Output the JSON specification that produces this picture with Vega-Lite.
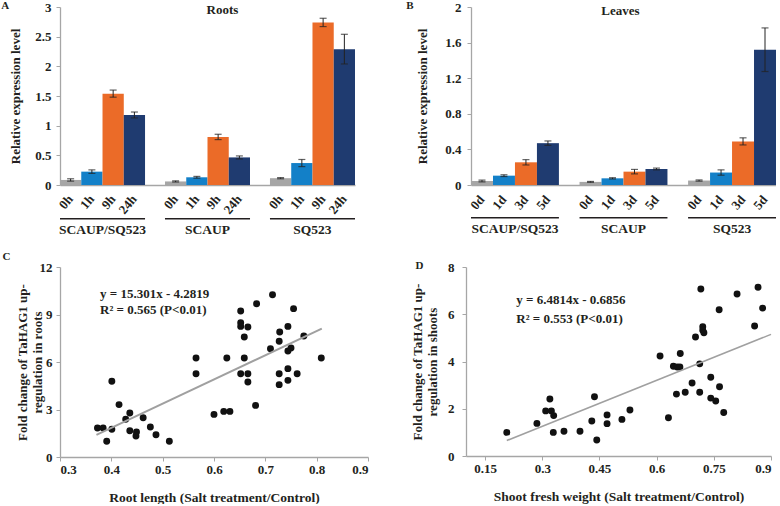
{
  "$schema": "https://vega.github.io/schema/vega-lite/v6.json",
  "background": "white",
  "padding": {"left": 1, "top": 0, "right": 0, "bottom": 0},
  "bounds": "flush",
  "config": {
    "view": {"stroke": null},
    "font": "Liberation Serif",
    "axis": {"labelFont": "Liberation Serif", "labelFontWeight": "bold", "labelFontSize": 13, "labelColor": "#231f20", "titleFont": "Liberation Serif", "titleFontWeight": "bold", "titleFontSize": 13, "titleColor": "#231f20", "domainColor": "#a6a6a6", "domainWidth": 1.3, "tickColor": "#a6a6a6", "tickSize": 4, "grid": false, "labelOverlap": false, "labelBound": false},
    "title": {"font": "Liberation Serif", "fontWeight": "bold", "fontSize": 11, "color": "#231f20", "anchor": "start", "frame": "bounds", "offset": -10},
    "text": {"font": "Liberation Serif", "fontWeight": "bold", "fontSize": 13, "color": "#231f20"}
  },
  "resolve": {"scale": {"color": "independent", "xOffset": "independent"}},
  "spacing": 260,
  "vconcat": [
    {
      "bounds": "flush",
      "hconcat": [
        {
          "title": {"text": "A", "dx": -8.5},
          "width": 295, "height": 178,
          "data": {"values": [
            {"g": "SCAUP/SQ523", "time": "0h", "v": 0.085, "lo": 0.065, "hi": 0.105},
            {"g": "SCAUP/SQ523", "time": "1h", "v": 0.225, "lo": 0.195, "hi": 0.255},
            {"g": "SCAUP/SQ523", "time": "9h", "v": 1.54, "lo": 1.48, "hi": 1.6},
            {"g": "SCAUP/SQ523", "time": "24h", "v": 1.18, "lo": 1.13, "hi": 1.23},
            {"g": "SCAUP", "time": "0h", "v": 0.06, "lo": 0.05, "hi": 0.07},
            {"g": "SCAUP", "time": "1h", "v": 0.13, "lo": 0.115, "hi": 0.145},
            {"g": "SCAUP", "time": "9h", "v": 0.81, "lo": 0.765, "hi": 0.855},
            {"g": "SCAUP", "time": "24h", "v": 0.465, "lo": 0.44, "hi": 0.49},
            {"g": "SQ523", "time": "0h", "v": 0.115, "lo": 0.105, "hi": 0.125},
            {"g": "SQ523", "time": "1h", "v": 0.37, "lo": 0.31, "hi": 0.43},
            {"g": "SQ523", "time": "9h", "v": 2.74, "lo": 2.67, "hi": 2.81},
            {"g": "SQ523", "time": "24h", "v": 2.29, "lo": 2.04, "hi": 2.54}
          ]},
          "layer": [
            {
              "mark": {"type": "bar"},
              "encoding": {
                "x": {"field": "g", "type": "nominal", "sort": ["SCAUP/SQ523", "SCAUP", "SQ523"], "scale": {"paddingInner": 0.19, "paddingOuter": 0}, "axis": {"title": null, "labelAngle": 0, "ticks": false, "labelPadding": 37, "labelFontSize": 13.5}},
                "xOffset": {"field": "time", "type": "nominal", "sort": ["0h", "1h", "9h", "24h"], "scale": {"paddingInner": 0, "paddingOuter": 0}},
                "y": {"field": "v", "type": "quantitative", "scale": {"domain": [0, 3]}, "axis": {"title": "Relative expression level", "values": [0, 0.5, 1, 1.5, 2, 2.5, 3], "tickCount": 10, "labelExpr": "'' + datum.value", "labelOverlap": false, "labelPadding": 5, "titlePadding": 12}},
                "color": {"field": "time", "type": "nominal", "scale": {"domain": ["0h", "1h", "9h", "24h"], "range": ["#a6a6a6", "#1380c8", "#eb6b28", "#1f3b70"]}, "legend": null}
              }
            },
            {
              "mark": {"type": "rule", "color": "#222222", "strokeWidth": 1},
              "encoding": {
                "x": {"field": "g", "type": "nominal", "sort": ["SCAUP/SQ523", "SCAUP", "SQ523"]},
                "xOffset": {"field": "time", "type": "nominal", "sort": ["0h", "1h", "9h", "24h"]},
                "y": {"field": "lo", "type": "quantitative"},
                "y2": {"field": "hi"}
              }
            },
            {
              "mark": {"type": "tick", "color": "#222222", "size": 7, "thickness": 1.2},
              "encoding": {
                "x": {"field": "g", "type": "nominal", "sort": ["SCAUP/SQ523", "SCAUP", "SQ523"]},
                "xOffset": {"field": "time", "type": "nominal", "sort": ["0h", "1h", "9h", "24h"]},
                "y": {"field": "hi", "type": "quantitative"}
              }
            },
            {
              "mark": {"type": "tick", "color": "#222222", "size": 7, "thickness": 1.2},
              "encoding": {
                "x": {"field": "g", "type": "nominal", "sort": ["SCAUP/SQ523", "SCAUP", "SQ523"]},
                "xOffset": {"field": "time", "type": "nominal", "sort": ["0h", "1h", "9h", "24h"]},
                "y": {"field": "lo", "type": "quantitative"}
              }
            },
            {
              "mark": {"type": "text", "angle": -50, "align": "right", "baseline": "middle", "fontSize": 13},
              "encoding": {
                "x": {"field": "g", "type": "nominal", "sort": ["SCAUP/SQ523", "SCAUP", "SQ523"]},
                "xOffset": {"field": "time", "type": "nominal", "sort": ["0h", "1h", "9h", "24h"]},
                "y": {"datum": -0.2},
                "text": {"field": "time"}
              }
            },
            {
              "data": {"values": [{"g": "SCAUP/SQ523"}, {"g": "SCAUP"}, {"g": "SQ523"}]},
              "mark": {"type": "rect", "color": "#231f20"},
              "encoding": {
                "x": {"field": "g", "type": "nominal", "sort": ["SCAUP/SQ523", "SCAUP", "SQ523"]},
                "y": {"datum": -0.555},
                "y2": {"datum": -0.58}
              }
            },
            {
              "data": {"values": [{"label": "Roots"}]},
              "mark": {"type": "text", "dx": 15, "baseline": "middle"},
              "encoding": {
                "x": {"datum": "SCAUP"},
                "y": {"datum": 2.95},
                "text": {"field": "label"}
              }
            }
          ]
        },
        {
          "title": {"text": "B", "dx": -10.5},
          "width": 305, "height": 178,
          "data": {"values": [
            {"g": "SCAUP/SQ523", "time": "0d", "v": 0.045, "lo": 0.035, "hi": 0.055},
            {"g": "SCAUP/SQ523", "time": "1d", "v": 0.105, "lo": 0.095, "hi": 0.115},
            {"g": "SCAUP/SQ523", "time": "3d", "v": 0.255, "lo": 0.225, "hi": 0.285},
            {"g": "SCAUP/SQ523", "time": "5d", "v": 0.47, "lo": 0.445, "hi": 0.495},
            {"g": "SCAUP", "time": "0d", "v": 0.035, "lo": 0.03, "hi": 0.04},
            {"g": "SCAUP", "time": "1d", "v": 0.075, "lo": 0.068, "hi": 0.082},
            {"g": "SCAUP", "time": "3d", "v": 0.15, "lo": 0.125, "hi": 0.175},
            {"g": "SCAUP", "time": "5d", "v": 0.18, "lo": 0.17, "hi": 0.19},
            {"g": "SQ523", "time": "0d", "v": 0.05, "lo": 0.043, "hi": 0.057},
            {"g": "SQ523", "time": "1d", "v": 0.14, "lo": 0.11, "hi": 0.17},
            {"g": "SQ523", "time": "3d", "v": 0.49, "lo": 0.45, "hi": 0.53},
            {"g": "SQ523", "time": "5d", "v": 1.52, "lo": 1.275, "hi": 1.765}
          ]},
          "layer": [
            {
              "mark": {"type": "bar"},
              "encoding": {
                "x": {"field": "g", "type": "nominal", "sort": ["SCAUP/SQ523", "SCAUP", "SQ523"], "scale": {"paddingInner": 0.19, "paddingOuter": 0}, "axis": {"title": null, "labelAngle": 0, "ticks": false, "labelPadding": 36, "labelFontSize": 13.5}},
                "xOffset": {"field": "time", "type": "nominal", "sort": ["0d", "1d", "3d", "5d"], "scale": {"paddingInner": 0, "paddingOuter": 0}},
                "y": {"field": "v", "type": "quantitative", "scale": {"domain": [0, 2]}, "axis": {"title": "Relative expression level", "values": [0, 0.4, 0.8, 1.2, 1.6, 2], "tickCount": 10, "labelExpr": "'' + datum.value", "labelOverlap": false, "labelPadding": 6, "titlePadding": 15}},
                "color": {"field": "time", "type": "nominal", "scale": {"domain": ["0d", "1d", "3d", "5d"], "range": ["#a6a6a6", "#1380c8", "#eb6b28", "#1f3b70"]}, "legend": null}
              }
            },
            {
              "mark": {"type": "rule", "color": "#222222", "strokeWidth": 1},
              "encoding": {
                "x": {"field": "g", "type": "nominal", "sort": ["SCAUP/SQ523", "SCAUP", "SQ523"]},
                "xOffset": {"field": "time", "type": "nominal", "sort": ["0d", "1d", "3d", "5d"]},
                "y": {"field": "lo", "type": "quantitative"},
                "y2": {"field": "hi"}
              }
            },
            {
              "mark": {"type": "tick", "color": "#222222", "size": 7, "thickness": 1.2},
              "encoding": {
                "x": {"field": "g", "type": "nominal", "sort": ["SCAUP/SQ523", "SCAUP", "SQ523"]},
                "xOffset": {"field": "time", "type": "nominal", "sort": ["0d", "1d", "3d", "5d"]},
                "y": {"field": "hi", "type": "quantitative"}
              }
            },
            {
              "mark": {"type": "tick", "color": "#222222", "size": 7, "thickness": 1.2},
              "encoding": {
                "x": {"field": "g", "type": "nominal", "sort": ["SCAUP/SQ523", "SCAUP", "SQ523"]},
                "xOffset": {"field": "time", "type": "nominal", "sort": ["0d", "1d", "3d", "5d"]},
                "y": {"field": "lo", "type": "quantitative"}
              }
            },
            {
              "mark": {"type": "text", "angle": -50, "align": "right", "baseline": "middle", "fontSize": 13},
              "encoding": {
                "x": {"field": "g", "type": "nominal", "sort": ["SCAUP/SQ523", "SCAUP", "SQ523"]},
                "xOffset": {"field": "time", "type": "nominal", "sort": ["0d", "1d", "3d", "5d"]},
                "y": {"datum": -0.14},
                "text": {"field": "time"}
              }
            },
            {
              "data": {"values": [{"g": "SCAUP/SQ523"}, {"g": "SCAUP"}, {"g": "SQ523"}]},
              "mark": {"type": "rect", "color": "#231f20"},
              "encoding": {
                "x": {"field": "g", "type": "nominal", "sort": ["SCAUP/SQ523", "SCAUP", "SQ523"]},
                "y": {"datum": -0.36},
                "y2": {"datum": -0.377}
              }
            },
            {
              "data": {"values": [{"label": "Leaves"}]},
              "mark": {"type": "text", "dx": -3, "baseline": "middle"},
              "encoding": {
                "x": {"datum": "SCAUP"},
                "y": {"datum": 1.955},
                "text": {"field": "label"}
              }
            }
          ]
        }
      ],
      "spacing": 116,
      "resolve": {"scale": {"color": "independent", "xOffset": "independent"}}
    },
    {
      "bounds": "flush",
      "hconcat": [
        {
          "title": {"text": "C", "dx": -13.5, "offset": -1},
          "width": 308, "height": 190,
          "layer": [
            {
              "data": {"values": [
                {"x": 0.373, "y": 1.83}, {"x": 0.384, "y": 1.83}, {"x": 0.391, "y": 0.99}, {"x": 0.401, "y": 1.75},
                {"x": 0.401, "y": 4.78}, {"x": 0.415, "y": 3.31}, {"x": 0.428, "y": 2.38}, {"x": 0.436, "y": 2.78},
                {"x": 0.436, "y": 1.66}, {"x": 0.449, "y": 1.58}, {"x": 0.448, "y": 1.33}, {"x": 0.462, "y": 2.48},
                {"x": 0.476, "y": 1.89}, {"x": 0.487, "y": 1.41}, {"x": 0.513, "y": 0.99}, {"x": 0.565, "y": 6.25},
                {"x": 0.565, "y": 5.26}, {"x": 0.6, "y": 2.69}, {"x": 0.619, "y": 2.88}, {"x": 0.631, "y": 2.88},
                {"x": 0.625, "y": 6.25}, {"x": 0.652, "y": 9.22}, {"x": 0.652, "y": 8.48}, {"x": 0.652, "y": 8.25},
                {"x": 0.652, "y": 5.26}, {"x": 0.659, "y": 7.58}, {"x": 0.659, "y": 6.25}, {"x": 0.666, "y": 8.21},
                {"x": 0.666, "y": 5.26}, {"x": 0.666, "y": 4.74}, {"x": 0.681, "y": 3.26}, {"x": 0.683, "y": 9.68},
                {"x": 0.71, "y": 6.84}, {"x": 0.714, "y": 10.25}, {"x": 0.727, "y": 7.31}, {"x": 0.728, "y": 7.89},
                {"x": 0.727, "y": 5.26}, {"x": 0.727, "y": 4.57}, {"x": 0.744, "y": 8.25}, {"x": 0.744, "y": 6.69},
                {"x": 0.744, "y": 5.58}, {"x": 0.744, "y": 4.84}, {"x": 0.75, "y": 6.88}, {"x": 0.755, "y": 9.37},
                {"x": 0.762, "y": 5.26}, {"x": 0.775, "y": 7.64}, {"x": 0.809, "y": 6.25}
              ]},
              "mark": {"type": "circle", "color": "#111111", "opacity": 1, "size": 48},
              "encoding": {
                "x": {"field": "x", "type": "quantitative", "scale": {"domain": [0.3, 0.9]}, "axis": {"title": "Root length (Salt treatment/Control)", "values": [0.3, 0.4, 0.5, 0.6, 0.7, 0.8, 0.9], "tickCount": 10, "labelExpr": "'' + datum.value", "titlePadding": 14, "titleFontSize": 13.5}},
                "y": {"field": "y", "type": "quantitative", "scale": {"domain": [0, 12]}, "axis": {"title": ["Fold change of TaHAG1 up-", "regulation in roots"], "values": [0, 3, 6, 9, 12], "tickCount": 10, "labelExpr": "'' + datum.value", "labelPadding": 4, "titlePadding": -5, "titleLineHeight": 15}}
              }
            },
            {
              "data": {"values": [{"x": 0.371, "y": 1.395}, {"x": 0.81, "y": 8.112}]},
              "mark": {"type": "line", "color": "#a0a0a0", "strokeWidth": 2},
              "encoding": {"x": {"field": "x", "type": "quantitative"}, "y": {"field": "y", "type": "quantitative"}}
            },
            {
              "data": {"values": [{"label": "y = 15.301x - 4.2819"}]},
              "mark": {"type": "text", "align": "left", "baseline": "middle"},
              "encoding": {"x": {"datum": 0.378}, "y": {"datum": 10.32}, "text": {"field": "label"}}
            },
            {
              "data": {"values": [{"label": "R² = 0.565  (P<0.01)"}]},
              "mark": {"type": "text", "align": "left", "baseline": "middle"},
              "encoding": {"x": {"datum": 0.378}, "y": {"datum": 9.26}, "text": {"field": "label"}}
            }
          ]
        },
        {
          "title": {"text": "D", "dx": 4, "offset": -10},
          "width": 305, "height": 189,
          "layer": [
            {
              "data": {"values": [
                {"x": 0.207, "y": 1.0}, {"x": 0.286, "y": 1.38}, {"x": 0.309, "y": 1.91}, {"x": 0.32, "y": 2.41},
                {"x": 0.324, "y": 1.91}, {"x": 0.33, "y": 1.71}, {"x": 0.329, "y": 1.0}, {"x": 0.357, "y": 1.05},
                {"x": 0.399, "y": 1.05}, {"x": 0.43, "y": 1.48}, {"x": 0.437, "y": 2.51}, {"x": 0.443, "y": 0.68},
                {"x": 0.47, "y": 1.74}, {"x": 0.47, "y": 1.37}, {"x": 0.509, "y": 1.55}, {"x": 0.53, "y": 1.95},
                {"x": 0.609, "y": 4.23}, {"x": 0.631, "y": 1.62}, {"x": 0.644, "y": 3.8}, {"x": 0.654, "y": 3.77},
                {"x": 0.652, "y": 2.62}, {"x": 0.661, "y": 3.77}, {"x": 0.662, "y": 4.34}, {"x": 0.675, "y": 2.7},
                {"x": 0.693, "y": 3.09}, {"x": 0.702, "y": 5.04}, {"x": 0.713, "y": 2.7}, {"x": 0.713, "y": 3.9},
                {"x": 0.716, "y": 7.07}, {"x": 0.721, "y": 5.47}, {"x": 0.721, "y": 5.32}, {"x": 0.724, "y": 5.22},
                {"x": 0.742, "y": 3.33}, {"x": 0.742, "y": 2.45}, {"x": 0.755, "y": 2.33}, {"x": 0.764, "y": 6.19},
                {"x": 0.765, "y": 2.93}, {"x": 0.776, "y": 1.84}, {"x": 0.811, "y": 6.86}, {"x": 0.857, "y": 5.5},
                {"x": 0.866, "y": 7.14}, {"x": 0.878, "y": 6.26}
              ]},
              "mark": {"type": "circle", "color": "#111111", "opacity": 1, "size": 48},
              "encoding": {
                "x": {"field": "x", "type": "quantitative", "scale": {"domain": [0.15, 0.9]}, "axis": {"title": "Shoot fresh weight (Salt treatment/Control)", "values": [0.15, 0.3, 0.45, 0.6, 0.75, 0.9], "tickCount": 10, "labelExpr": "'' + datum.value", "titlePadding": 14, "titleFontSize": 13.5}},
                "y": {"field": "y", "type": "quantitative", "scale": {"domain": [0, 8]}, "axis": {"title": ["Fold change of TaHAG1 up-", "regulation in shoots"], "values": [0, 2, 4, 6, 8], "tickCount": 10, "labelExpr": "'' + datum.value", "labelPadding": 8, "titlePadding": 8, "titleLineHeight": 15}}
              }
            },
            {
              "data": {"values": [{"x": 0.207, "y": 0.656}, {"x": 0.9, "y": 5.148}]},
              "mark": {"type": "line", "color": "#a0a0a0", "strokeWidth": 1.6},
              "encoding": {"x": {"field": "x", "type": "quantitative"}, "y": {"field": "y", "type": "quantitative"}}
            },
            {
              "data": {"values": [{"label": "y = 6.4814x - 0.6856"}]},
              "mark": {"type": "text", "align": "left", "baseline": "middle"},
              "encoding": {"x": {"datum": 0.232}, "y": {"datum": 6.6}, "text": {"field": "label"}}
            },
            {
              "data": {"values": [{"label": "R² = 0.553 (P<0.01)"}]},
              "mark": {"type": "text", "align": "left", "baseline": "middle"},
              "encoding": {"x": {"datum": 0.232}, "y": {"datum": 5.82}, "text": {"field": "label"}}
            }
          ]
        }
      ],
      "spacing": 98
    }
  ]
}
